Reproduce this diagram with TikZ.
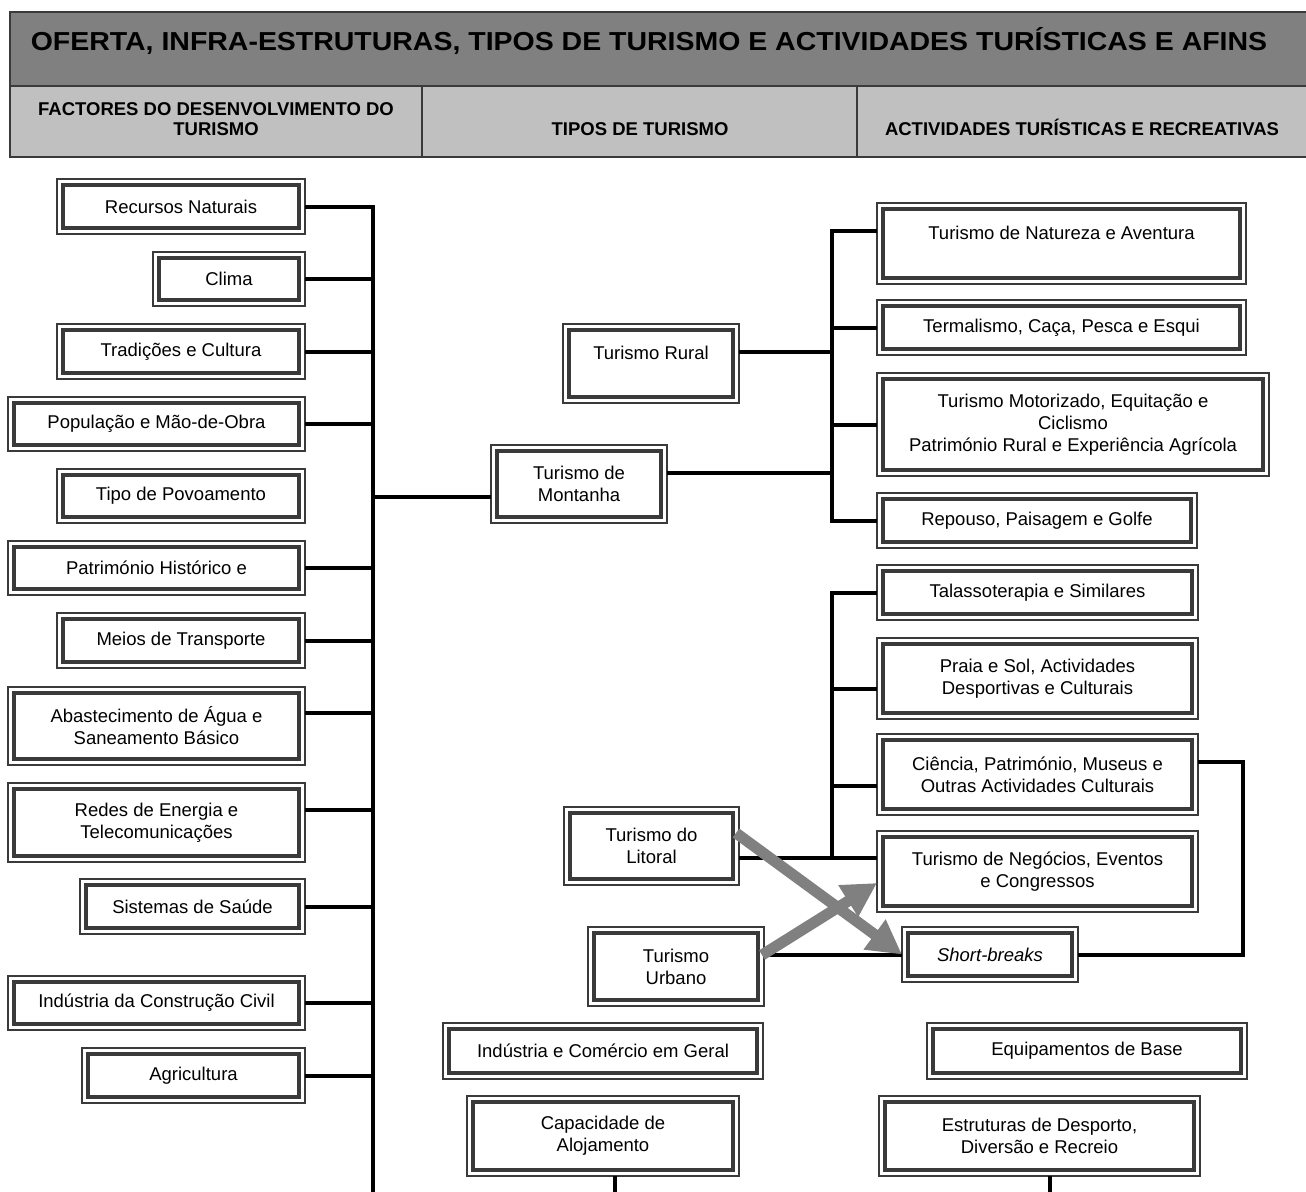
\documentclass[tikz,border=0pt]{standalone}
\usepackage{fontspec}
\setmainfont{Liberation Sans}
\usetikzlibrary{arrows.meta,calc}
\definecolor{bordc}{HTML}{3A3A3A}
\definecolor{titlec}{HTML}{808080}
\definecolor{subc}{HTML}{C0C0C0}
\definecolor{arrowc}{HTML}{808080}
\newcommand\bodyfont{\fontsize{18.5}{22}\selectfont}
\newcommand\titlefont{\fontsize{26}{30}\selectfont\bfseries}
\newcommand\subfont{\fontsize{18.5}{21}\selectfont\bfseries}
\tikzset{
  bxo/.style={draw=bordc, line width=2pt, inner sep=0pt, outer sep=0pt,
    align=center, font=\bodyfont, anchor=north west, fill=white},
  bxi/.style={draw=bordc, line width=3.4pt},
  conn/.style={line width=4pt, draw=black, line join=miter},
  hdr/.style={draw=bordc, line width=2.4pt},
  garrow/.style={draw=arrowc, line width=11pt, -{Triangle[length=34pt,width=35pt]}},
  hdtxt/.style={anchor=base, inner sep=0pt}
}
\newcommand\mybox[6]{%
  \node[bxo, minimum width={#4pt-#2pt}, minimum height={#5pt-#3pt}] (#1) at (#2,#3) {#6};
  \draw[bxi] ([shift={(6pt,-6pt)}]#1.north west) rectangle ([shift={(-6pt,6pt)}]#1.south east);
}
\begin{document}
\begin{tikzpicture}[x=1pt,y=-1pt]
\useasboundingbox (0,0) rectangle (1306,1191);
% header
\draw[hdr, fill=titlec] (10,12) rectangle (1314,86);
\draw[hdr, fill=subc] (10,86) rectangle (1314,157);
\draw[hdr] (422,86) -- (422,157);
\draw[hdr] (857,86) -- (857,157);
\node[hdtxt, font=\titlefont] (ttl) at (649,50) {\scalebox{1.095}[1]{OFERTA, INFRA-ESTRUTURAS, TIPOS DE TURISMO E ACTIVIDADES TURÍSTICAS E AFINS}};
\node[hdtxt, font=\subfont] (sh1a) at (216,115) {FACTORES DO DESENVOLVIMENTO DO};
\node[hdtxt, font=\subfont] (sh1b) at (216,135) {TURISMO};
\node[hdtxt, font=\subfont] (sh2) at (640,135) {TIPOS DE TURISMO};
\node[hdtxt, font=\subfont] (sh3) at (1082,135) {ACTIVIDADES TURÍSTICAS E RECREATIVAS};

% left column
\mybox{rec}{57}{179}{305}{234}{Recursos Naturais}
\mybox{cli}{153}{252}{305}{306}{Clima}
\mybox{tra}{57}{324}{305}{379}{Tradições e Cultura}
\mybox{pop}{8}{397}{305}{451}{População e Mão-de-Obra}
\mybox{tip}{57}{469}{305}{523}{Tipo de Povoamento}
\mybox{pat}{8}{541}{305}{595}{Património Histórico e}
\mybox{mei}{57}{613}{305}{668}{Meios de Transporte}
\mybox{aba}{8}{687}{305}{765}{Abastecimento de Água e\\Saneamento Básico}
\mybox{red}{8}{783}{305}{862}{Redes de Energia e\\Telecomunicações}
\mybox{sis}{80}{879}{305}{934}{Sistemas de Saúde}
\mybox{ind}{8}{976}{305}{1030}{Indústria da Construção Civil}
\mybox{agr}{82}{1048}{305}{1103}{Agricultura}

% middle / right
\mybox{rur}{563}{324}{739}{403}{Turismo Rural\\\mbox{}}
\mybox{mon}{491}{445}{667}{523}{Turismo de\\Montanha}
\mybox{nat}{877}{203}{1246}{284}{Turismo de Natureza e Aventura\\\mbox{}}
\mybox{ter}{877}{300}{1246}{355}{Termalismo, Caça, Pesca e Esqui}
\mybox{mot}{877}{373}{1269}{476}{Turismo Motorizado, Equitação e\\Ciclismo\\Património Rural e Experiência Agrícola}
\mybox{rep}{877}{493}{1197}{548}{Repouso, Paisagem e Golfe}
\mybox{tal}{877}{565}{1198}{620}{Talassoterapia e Similares}
\mybox{pra}{877}{638}{1198}{719}{Praia e Sol, Actividades\\Desportivas e Culturais}
\mybox{cie}{877}{734}{1198}{815}{Ciência, Património, Museus e\\Outras Actividades Culturais}
\mybox{lit}{564}{807}{739}{885}{Turismo do\\Litoral}
\mybox{neg}{877}{831}{1198}{912}{Turismo de Negócios, Eventos\\e Congressos}
\mybox{urb}{588}{927}{764}{1006}{Turismo\\Urbano}
\mybox{sb}{902}{927}{1078}{982}{\textit{Short-breaks}}
\mybox{inc}{443}{1023}{763}{1079}{Indústria e Comércio em Geral}
\mybox{equ}{927}{1023}{1247}{1079}{Equipamentos de Base}
\mybox{cap}{467}{1096}{739}{1176}{Capacidade de\\Alojamento}
\mybox{est}{879}{1096}{1200}{1176}{Estruturas de Desporto,\\Diversão e Recreio}

% helper coordinates
\coordinate (trunkbot) at (373,1200);
\coordinate (rtx) at (832,0);
\coordinate (rx) at (1243,0);
\coordinate (capB) at (615,1200);
\coordinate (estB) at (1050,1200);
\coordinate (abaR) at ([yshift=13pt]aba.east);
\coordinate (redR) at ([yshift=12.5pt]red.east);
\coordinate (monL) at ([yshift=-13pt]mon.west);
\coordinate (monR) at ([yshift=11pt]mon.east);
\coordinate (rurR) at ([yshift=11.5pt]rur.east);
\coordinate (natL) at ([yshift=12.5pt]nat.west);
\coordinate (praL) at ([yshift=-10.5pt]pra.west);
\coordinate (cieL) at ([yshift=-11.5pt]cie.west);
\coordinate (cieR) at ([yshift=12.5pt]cie.east);
\coordinate (litR) at ([yshift=-12pt]lit.east);
\coordinate (urbR) at ([yshift=11.5pt]urb.east);

% left trunk
\draw[conn] (rec.east) -| (trunkbot);
\foreach \b in {cli,tra,pop,pat,mei,sis,ind,agr}
  \draw[conn] (\b.east) -- (\b.east -| trunkbot);
\draw[conn] (abaR) -- (abaR -| trunkbot);
\draw[conn] (redR) -- (redR -| trunkbot);
\draw[conn] (monL -| trunkbot) -- (monL);

% mountain / rural tree
\draw[conn] (natL) -| (rtx |- rep.west) -- (rep.west);
\draw[conn] (ter.west -| rtx) -- (ter.west);
\draw[conn] (mot.west -| rtx) -- (mot.west);
\draw[conn] (rurR) -- (rurR -| rtx);
\draw[conn] (monR) -- (monR -| rtx);

% coastal tree
\draw[conn] (tal.west) -| (rtx |- litR);
\draw[conn] (praL -| rtx) -- (praL);
\draw[conn] (cieL -| rtx) -- (cieL);
\draw[conn] (litR) -- (litR -| neg.west);

% urban / short-breaks
\draw[conn] (urbR) -- (urbR -| sb.west);
\draw[conn] (cieR) -| (rx |- sb.east) -- (sb.east);

% bottom lines
\draw[conn] (cap.south -| capB) -- (capB);
\draw[conn] (est.south -| estB) -- (estB);

% grey arrows
\draw[garrow] ([xshift=-3pt,yshift=13pt]lit.east) -- (sb.west);
\draw[garrow] ([xshift=-2pt]urbR) -- ([yshift=-11.5pt]neg.west);
\end{tikzpicture}
\end{document}
